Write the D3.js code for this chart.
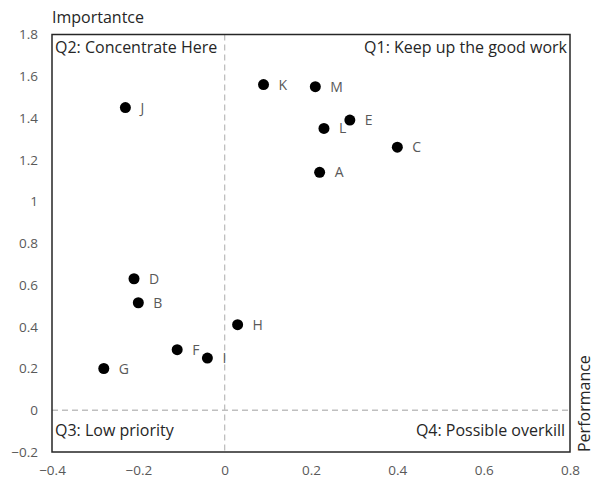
<!DOCTYPE html>
<html><head><meta charset="utf-8">
<script src="https://cdn.jsdelivr.net/npm/d3@7"></script>
<style>body{margin:0;background:#fff;} text{font-family:"Open Sans",sans-serif;}</style>
</head><body><svg id="c" width="594" height="481"></svg>
<script>
const labels = ["A","B","C","D","E","F","G","H","I","J","K","L","M"];
const performance = [0.22,-0.20,0.40,-0.21,0.29,-0.11,-0.28,0.03,-0.04,-0.23,0.09,0.23,0.21];
const importance = [1.14,0.515,1.26,0.63,1.39,0.29,0.20,0.41,0.25,1.45,1.56,1.35,1.55];
const xTicks = [-0.4,-0.2,0,0.2,0.4,0.6,0.8];
const yTicks = [-0.2,0,0.2,0.4,0.6,0.8,1,1.2,1.4,1.6,1.8];
const quadrants = ["Q1: Keep up the good work","Q2: Concentrate Here","Q3: Low priority","Q4: Possible overkill"];

const svg = d3.select("#c");
const L=52,R=570,T=34.5,B=452;
const x = d3.scaleLinear().domain([-0.4,0.8]).range([L,R]);
const y = d3.scaleLinear().domain([-0.2,1.8]).range([B,T]);

// dashed quadrant lines
svg.append("line").attr("x1",x(0)).attr("x2",x(0)).attr("y1",T).attr("y2",B)
  .attr("stroke","#bfbfbf").attr("stroke-width",1.3).attr("stroke-dasharray","6,4");
svg.append("line").attr("x1",L).attr("x2",R).attr("y1",y(0)).attr("y2",y(0))
  .attr("stroke","#bfbfbf").attr("stroke-width",1.3).attr("stroke-dasharray","6,4");

// axes (labels only)
const xa = svg.append("g").attr("transform",`translate(0,${B})`)
  .call(d3.axisBottom(x).tickValues(xTicks).tickSize(0).tickPadding(13).tickFormat(d=>d3.format("")(+d.toFixed(1))));
const ya = svg.append("g").attr("transform",`translate(${L},0)`)
  .call(d3.axisLeft(y).tickValues(yTicks).tickSize(0).tickPadding(14).tickFormat(d=>d3.format("")(+d.toFixed(1))));
[xa,ya].forEach(a=>{a.select(".domain").remove();
  a.selectAll("text").attr("fill","#595959").style("font-size","13.5px").style("font-family","'Open Sans',sans-serif");});

// border
svg.append("rect").attr("x",L).attr("y",T).attr("width",R-L).attr("height",B-T)
  .attr("fill","none").attr("stroke","#262626").attr("stroke-width",1.5);

// points
const data = labels.map((l,i)=>({l,px:performance[i],py:importance[i]}));
svg.selectAll("circle.p").data(data).join("circle").attr("class","p")
  .attr("cx",d=>x(d.px)).attr("cy",d=>y(d.py)).attr("r",5.5).attr("fill","#000");
svg.selectAll("text.lab").data(data).join("text").attr("class","lab")
  .attr("x",d=>x(d.px)+15).attr("y",d=>y(d.py)+5).text(d=>d.l)
  .attr("fill","#595959").style("font-size","14px");

// quadrant labels
const fs = "16px";
svg.append("text").attr("x",R-3).attr("y",T+18).attr("text-anchor","end").text(quadrants[0]).attr("fill","#262626").style("font-size",fs);
svg.append("text").attr("x",L+3).attr("y",T+18).text(quadrants[1]).attr("fill","#262626").style("font-size",fs);
svg.append("text").attr("x",L+3).attr("y",B-16).text(quadrants[2]).attr("fill","#262626").style("font-size",fs);
svg.append("text").attr("x",R-5).attr("y",B-16).attr("text-anchor","end").text(quadrants[3]).attr("fill","#262626").style("font-size",fs);

// axis titles
svg.append("text").attr("x",L).attr("y",23).text("Importantce").attr("fill","#262626").style("font-size",fs);
svg.append("text").attr("transform",`translate(590,${B}) rotate(-90)`).text("Performance").attr("fill","#262626").style("font-size",fs);
</script></body></html>
